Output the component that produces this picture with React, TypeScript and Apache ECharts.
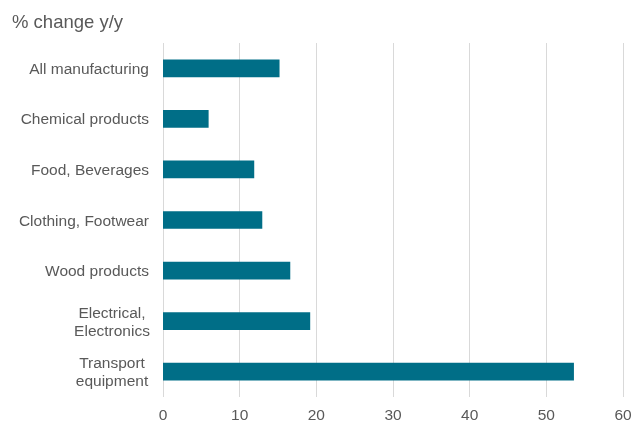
import React, { useEffect, useRef } from "react";
import * as echarts from "echarts";

const categories = [
  "All manufacturing",
  "Chemical products",
  "Food, Beverages",
  "Clothing, Footwear",
  "Wood products",
  "Electrical,\nElectronics",
  "Transport\nequipment",
];
const values = [15.2, 5.95, 11.9, 12.95, 16.6, 19.2, 53.6];
const xTicks = { min: 0, max: 60, interval: 10 };
const titleText = "% change y/y";

export default function App() {
  const ref = useRef<HTMLDivElement>(null);
  useEffect(() => {
    if (!ref.current) return;
    const chart = echarts.init(ref.current, undefined, { renderer: "svg" });
    const font = "Arial, 'Liberation Sans', sans-serif";
    chart.setOption({
      animation: false,
      textStyle: { fontFamily: font },
      title: {
        text: titleText,
        left: 7,
        top: 7,
        textStyle: { fontSize: 18.5, fontWeight: "normal", color: "#595959", fontFamily: font },
      },
      grid: { left: 163, right: 12, top: 43, bottom: 25, containLabel: false },
      xAxis: {
        type: "value",
        min: xTicks.min,
        max: xTicks.max,
        interval: xTicks.interval,
        axisLine: { show: false },
        axisTick: { show: false },
        splitLine: { show: true, lineStyle: { color: "#d9d9d9", width: 1 } },
        axisLabel: { color: "#595959", fontSize: 15.5, margin: 9, fontFamily: font },
      },
      yAxis: {
        type: "category",
        data: categories,
        inverse: true,
        axisLine: { show: false },
        axisTick: { show: false },
        axisLabel: {
          color: "#595959",
          fontSize: 15.5,
          margin: 14,
          fontFamily: font,
          lineHeight: 18,
          formatter: (v: string) =>
            v.includes("\n")
              ? v.split("\n").map((s) => `{c|${s}}`).join("\n")
              : v,
          rich: {
            c: { width: 74, align: "center", color: "#595959", fontSize: 15.5, lineHeight: 18, fontFamily: font },
          },
        },
      },
      series: [
        {
          type: "bar",
          data: values,
          barWidth: "35%",
          itemStyle: { color: "#006E87" },
        },
      ],
    });
    return () => chart.dispose();
  }, []);
  return (
    <div
      ref={ref}
      style={{ position: "fixed", left: 0, top: 0, width: 635, height: 422, overflow: "hidden" }}
    />
  );
}
